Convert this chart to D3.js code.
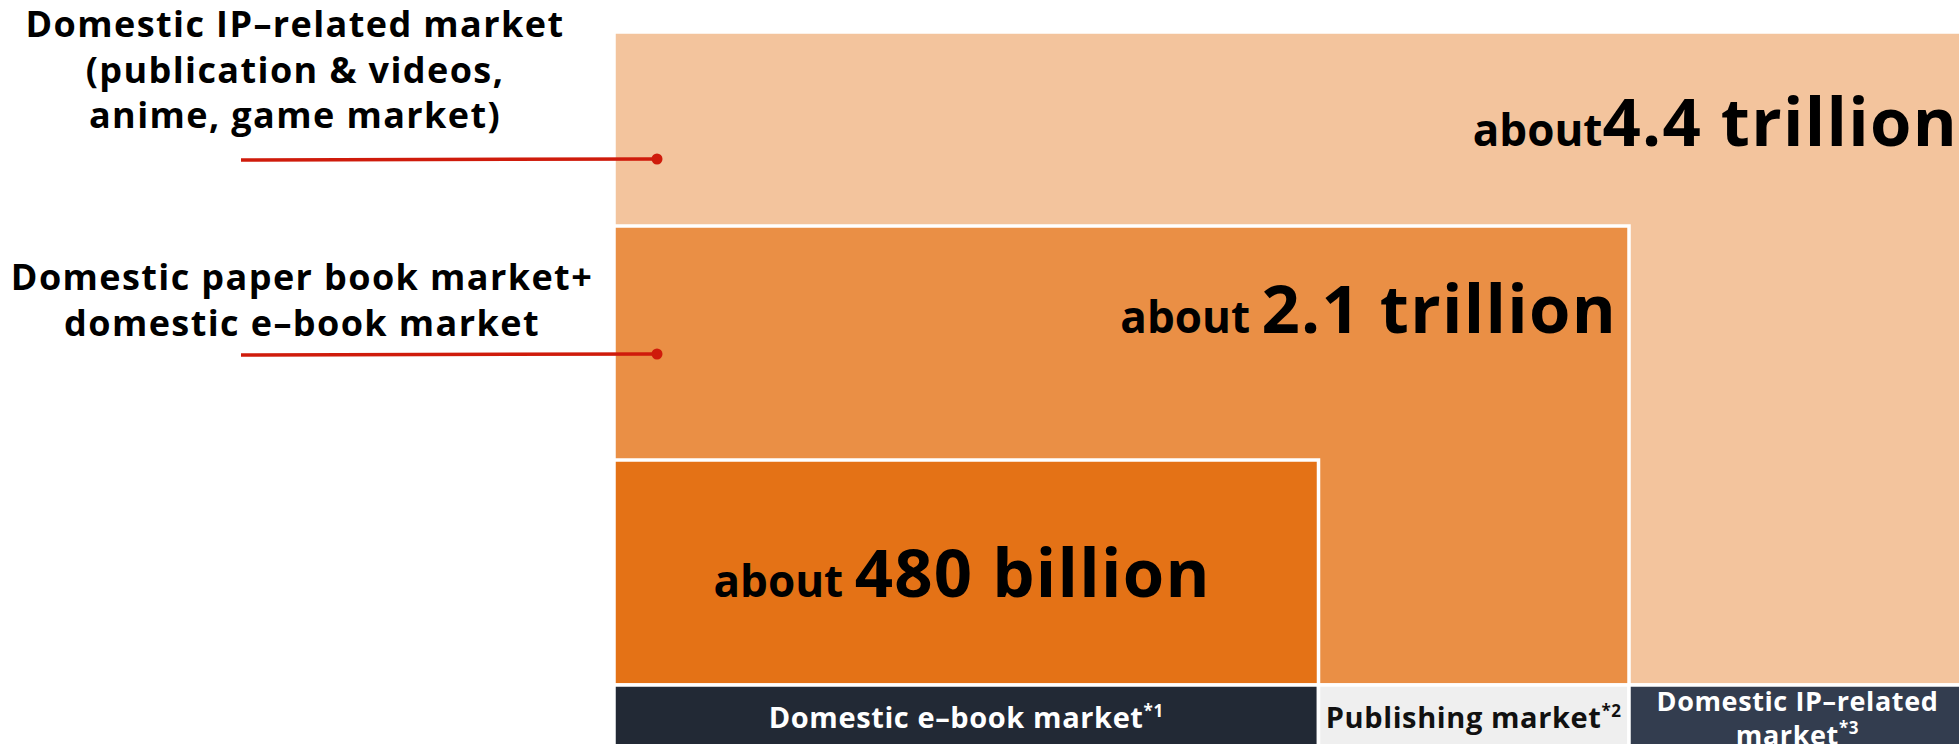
<!DOCTYPE html>
<html>
<head>
<meta charset="utf-8">
<script src="https://cdn.jsdelivr.net/npm/d3@7"></script>
<style>
  html, body { margin: 0; padding: 0; background: #ffffff; overflow: hidden; }
  text { font-family: 'Open Sans', sans-serif; font-weight: 700; }
</style>
</head>
<body>
<div id="wrapper"></div>
<script>
// markets, from the innermost block to the outermost one
const markets = ['Domestic e–book market', 'Publishing market', 'Domestic IP–related market']
const footnotes = ['*1', '*2', '*3']
const amountPrefixes = ['about ', 'about ', 'about']
const amounts = ['480 billion', '2.1 trillion', '4.4 trillion']
// bottom captions (the last one wraps to two lines)
const captionLines = [['Domestic e–book market'], ['Publishing market'], ['Domestic IP–related', 'market']]
// callouts on the left
const calloutLines = [
  ['Domestic IP–related market', '(publication & videos,', 'anime, game market)'],
  ['Domestic paper book market+', 'domestic e–book market'],
]
const blockColors = ['#e47216', '#ea8f45', '#f3c49d']
const captionColors = ['#222935', '#efefef', '#333d4f']
const captionTextColors = ['#ffffff', '#111111', '#ffffff']

function drawChart() {
  const dimensions = { width: 1959, height: 744 }

  // column edges and nesting levels
  const xScale = d3.scaleLinear().domain([0, 1, 2, 3]).range([614, 1318.5, 1629, 1966])
  const yScale = d3.scaleLinear().domain([0, 1, 2, 3]).range([685, 460, 226, 32])

  const svg = d3
    .select('#wrapper')
    .append('svg')
    .attr('width', dimensions.width)
    .attr('height', dimensions.height)

  // nested blocks, the biggest first
  const order = d3.range(markets.length).reverse()
  svg
    .append('g')
    .attr('class', 'blocks')
    .selectAll('rect')
    .data(order)
    .enter()
    .append('rect')
    .attr('x', xScale(0))
    .attr('y', (i) => yScale(i + 1))
    .attr('width', (i) => xScale(i + 1) - xScale(0))
    .attr('height', (i) => yScale(0) - yScale(i + 1))
    .attr('fill', (i) => blockColors[i])
    .attr('stroke', '#ffffff')
    .attr('stroke-width', 3.5)

  // amount labels
  const amountPos = [
    { x: (xScale(0) + xScale(1)) / 2 - 4, y: (yScale(0) + yScale(1)) / 2 + 24, anchor: 'middle' },
    { x: xScale(2) - 12, y: yScale(2) + 107, anchor: 'end' },
    { x: xScale(3) - 8, y: yScale(3) + 114, anchor: 'end' },
  ]
  const amountText = svg
    .append('g')
    .attr('class', 'amounts')
    .selectAll('text')
    .data(amounts)
    .enter()
    .append('text')
    .attr('x', (d, i) => amountPos[i].x)
    .attr('y', (d, i) => amountPos[i].y)
    .attr('text-anchor', (d, i) => amountPos[i].anchor)
    .attr('fill', '#000000')
  amountText
    .append('tspan')
    .attr('font-size', 44)
    .style('white-space', 'pre')
    .text((d, i) => amountPrefixes[i])
  amountText.append('tspan').attr('font-size', 67).attr('letter-spacing', 1.3).text((d) => d)

  // captions under the blocks
  const captionTop = yScale(0)
  const captions = svg
    .append('g')
    .attr('class', 'captions')
    .selectAll('g')
    .data(markets)
    .enter()
    .append('g')
  captions
    .append('rect')
    .attr('x', (d, i) => xScale(i))
    .attr('y', captionTop)
    .attr('width', (d, i) => xScale(i + 1) - xScale(i))
    .attr('height', 90)
    .attr('fill', (d, i) => captionColors[i])
    .attr('stroke', '#ffffff')
    .attr('stroke-width', 3.5)

  captions.each(function (d, i) {
    const lines = captionLines[i]
    const cx = (xScale(i) + xScale(i + 1)) / 2
    const t = d3
      .select(this)
      .append('text')
      .attr('text-anchor', 'middle')
      .attr('fill', captionTextColors[i])
      .attr('font-size', lines.length > 1 ? 27 : 29)
      .attr('letter-spacing', lines.length > 1 ? 0.6 : 0.6)
    const baseY = lines.length > 1 ? captionTop + 26 : captionTop + 43
    lines.forEach((line, j) => {
      t.append('tspan')
        .attr('x', cx)
        .attr('y', baseY + j * 34)
        .text(line)
      if (j === lines.length - 1) {
        t.append('tspan').attr('font-size', 17).attr('dy', -11).text(footnotes[i])
      }
    })
  })

  // callouts with leader lines
  const calloutPos = [
    { cx: 295, top: 37, lineY: 160 },
    { cx: 302, top: 290, lineY: 355 },
  ]
  const callouts = svg
    .append('g')
    .attr('class', 'callouts')
    .selectAll('g')
    .data(calloutLines)
    .enter()
    .append('g')
  callouts
    .append('text')
    .attr('text-anchor', 'middle')
    .attr('font-size', 36)
    .attr('letter-spacing', 1.4)
    .attr('fill', '#000000')
    .selectAll('tspan')
    .data((d, i) => d.map((line) => ({ line, i })))
    .enter()
    .append('tspan')
    .attr('x', (d) => calloutPos[d.i].cx)
    .attr('y', (d, j) => calloutPos[d.i].top + j * 45.5)
    .text((d) => d.line)
  callouts
    .append('line')
    .attr('x1', 241)
    .attr('x2', 657)
    .attr('y1', (d, i) => calloutPos[i].lineY)
    .attr('y2', (d, i) => calloutPos[i].lineY - 1)
    .attr('stroke', '#cf1b0b')
    .attr('stroke-width', 3.5)
  callouts
    .append('circle')
    .attr('cx', 657)
    .attr('cy', (d, i) => calloutPos[i].lineY - 1)
    .attr('r', 5.5)
    .attr('fill', '#cf1b0b')
}

drawChart()
</script>
</body>
</html>
